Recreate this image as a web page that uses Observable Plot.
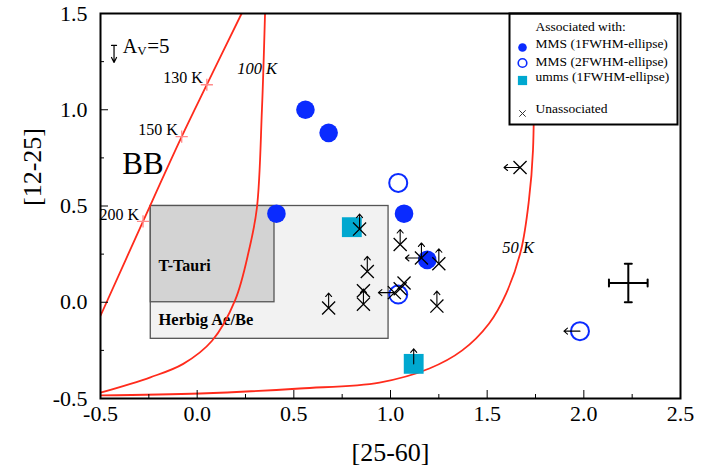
<!DOCTYPE html>
<html><head><meta charset="utf-8">
<script src="https://cdn.jsdelivr.net/npm/d3@7"></script>
<script src="https://cdn.jsdelivr.net/npm/@observablehq/plot@0.6"></script>
<style>
body{margin:0;background:#fff}
#chart svg, #chart svg text { font-family: "Liberation Serif", "Times New Roman", serif !important; }
</style>
</head><body><div id="chart"></div>
<script>
// ---- data ----
const mms1X = [0.56, 0.68, 0.41, 1.07, 1.19];
const mms1Y = [1.00, 0.88, 0.46, 0.46, 0.22];
const mms2X = [1.04, 1.04, 1.98];
const mms2Y = [0.62, 0.04, -0.15];
const mms2UpperX = [false, false, true];
const ummsX = [0.80, 1.12];
const ummsY = [0.39, -0.32];
const ummsLowerY = [false, true];
const unX = [1.67, 1.05, 1.16, 1.25, 1.24, 0.88, 0.84, 0.68, 0.86, 0.86, 1.02, 1.05, 1.07];
const unY = [0.70, 0.30, 0.23, 0.20, -0.02, 0.16, 0.38, -0.03, 0.06, -0.01, 0.05, 0.07, 0.10];
const unLowerY = [false, true, true, true, true, true, true, true, false, true, false, false, false];
const unUpperX = [true, false, true, false, false, false, false, false, false, false, true, false, false];
const bbX = [0.23, 0.05, -0.08, -0.28, -0.5];
const bbY = [1.5, 1.13, 0.86, 0.42, -0.07];
const bbTempLabels = ["130 K", "150 K", "200 K"];
const bbTempX = [0.05, -0.08, -0.28];
const bbTempY = [1.13, 0.86, 0.42];
const k100X = [0.351, 0.335, 0.309, 0.268, 0.196, 0.077, -0.072, -0.242, -0.5];
const k100Y = [1.5, 1.0, 0.49, 0.27, 0.01, -0.20, -0.32, -0.39, -0.47];
const k50X = [1.742, 1.737, 1.716, 1.675, 1.598, 1.510, 1.371, 1.201, 0.943, 0.531, 0.015, -0.5];
const k50Y = [1.5, 0.79, 0.53, 0.27, 0.045, -0.11, -0.25, -0.344, -0.417, -0.448, -0.474, -0.484];
const herbigBox = [-0.24, 0.99, -0.19, 0.5];
const ttauriBox = [-0.24, 0.40, 0.0, 0.5];
const errX = [2.23], errY = [0.10], errDX = [0.1], errDY = [0.1];
const xMajor = [-0.5, 0, 0.5, 1, 1.5, 2, 2.5];
const xMinor = [-0.25, 0.25, 0.75, 1.25, 1.75, 2.25];
const yMajor = [-0.5, 0, 0.5, 1, 1.5];
const yMinor = [-0.25, 0.25, 0.75, 1.25];
const legendLabels = ["Associated with:", "MMS (1FWHM-ellipse)", "MMS (2FWHM-ellipse)", "umms (1FWHM-ellipse)", "Unassociated"];

// ---- build tables ----
const zip = (X, Y) => X.map((x, i) => ({x, y: Y[i]}));
const mms1 = zip(mms1X, mms1Y);
const mms2 = mms2X.map((x, i) => ({x, y: mms2Y[i], ux: mms2UpperX[i]}));
const umms = ummsX.map((x, i) => ({x, y: ummsY[i], ly: ummsLowerY[i]}));
const unas = unX.map((x, i) => ({x, y: unY[i], ly: unLowerY[i], ux: unUpperX[i]}));
const bb = zip(bbX, bbY);
const bbT = bbTempLabels.map((t, i) => ({t, x: bbTempX[i], y: bbTempY[i]}));
const k100 = zip(k100X, k100Y);
const k50 = zip(k50X, k50Y);
const err = errX.map((x, i) => ({x, y: errY[i], dx: errDX[i], dy: errDY[i]}));
const boxes = [
  {x1: herbigBox[0], x2: herbigBox[1], y1: herbigBox[2], y2: herbigBox[3], fill: "#f2f2f2"},
  {x1: ttauriBox[0], x2: ttauriBox[1], y1: ttauriBox[2], y2: ttauriBox[3], fill: "#d3d3d3"}
];
const upLimits = [...unas.filter(d => d.ly), ...umms.filter(d => d.ly)];
const leftLimits = [...unas.filter(d => d.ux), ...mms2.filter(d => d.ux)];

const arrowShape = {draw(ctx, l) {
  ctx.moveTo(0, 0); ctx.lineTo(0, -l);
  ctx.moveTo(-3, -l + 3.5); ctx.lineTo(0, -l); ctx.lineTo(3, -l + 3.5);
}};
const avShape = {draw(ctx, l) {
  ctx.moveTo(-2.5, 0); ctx.lineTo(2.5, 0);
  ctx.moveTo(0, 0); ctx.lineTo(0, -l);
  ctx.moveTo(-2.5, -l + 5); ctx.lineTo(0, -l); ctx.lineTo(2.5, -l + 5);
}};
const capShape = {draw(ctx, l) { ctx.moveTo(0, -l / 2); ctx.lineTo(0, l / 2); }};

const RED = "#ff2b1c", BLUE = "#0a2bff", CYAN = "#00a8d0";
const serif = "Liberation Serif, Times New Roman, serif";
const leg = {frameAnchor: "top-left", dx: 435, textAnchor: "start", lineAnchor: "middle", fontSize: 13.5};

const chart = Plot.plot({
  width: 719, height: 470,
  marginLeft: 100, marginRight: 39, marginTop: 13, marginBottom: 72,
  style: {fontFamily: serif, fontSize: "21px", color: "black", background: "white"},
  x: {domain: [-0.5, 2.5], label: null},
  y: {domain: [-0.5, 1.5], label: null},
  marks: [
    Plot.rect(boxes, {x1: "x1", x2: "x2", y1: "y1", y2: "y2", fill: "fill", stroke: "#555", strokeWidth: 1.3}),
    Plot.text(["T-Tauri"], {x: -0.20, y: 0.19, textAnchor: "start", fontWeight: "bold", fontSize: 16}),
    Plot.text(["Herbig Ae/Be"], {x: -0.20, y: -0.09, textAnchor: "start", fontWeight: "bold", fontSize: 16.5}),
    Plot.line(k100, {x: "x", y: "y", curve: "catmull-rom", stroke: RED, strokeWidth: 1.8, clip: true}),
    Plot.line(k50, {x: "x", y: "y", curve: "catmull-rom", stroke: RED, strokeWidth: 1.8, clip: true}),
    Plot.line(bb, {x: "x", y: "y", curve: "catmull-rom", stroke: RED, strokeWidth: 1.8, clip: true}),
    Plot.dot(bbT, {x: "x", y: "y", symbol: "plus", r: 4, stroke: "#ff8a8a", strokeWidth: 1.3}),
    Plot.text(bbT, {x: "x", y: "y", text: "t", textAnchor: "end", dx: -4, dy: -7, fontSize: 16}),
    Plot.text(["BB"], {x: -0.28, y: 0.72, fontSize: 31}),
    Plot.text(["100 K"], {x: 0.31, y: 1.215, fontSize: 16.5, fontStyle: "italic"}),
    Plot.text(["50 K"], {x: 1.66, y: 0.285, fontSize: 16.5, fontStyle: "italic"}),
    // A_V = 5 extinction arrow
    Plot.vector([0], {x: -0.43, y: 1.334, length: 17, rotate: 180, anchor: "start", shape: avShape, stroke: "black", strokeWidth: 1.2}),
    Plot.text(["A"], {x: -0.385, y: 1.33, textAnchor: "start", fontSize: 20}),
    Plot.text(["V"], {x: -0.385, y: 1.33, dx: 14.5, dy: 5, textAnchor: "start", fontSize: 13}),
    Plot.text(["=5"], {x: -0.385, y: 1.33, dx: 24.5, textAnchor: "start", fontSize: 21}),
    // data points
    Plot.dot(mms1, {x: "x", y: "y", r: 9.3, fill: BLUE}),
    Plot.dot(mms2, {x: "x", y: "y", r: 9, stroke: BLUE, strokeWidth: 2}),
    Plot.dot(umms, {x: "x", y: "y", symbol: "square", r: 11.2, fill: CYAN}),
    Plot.dot(unas, {x: "x", y: "y", symbol: "times", r: 6, stroke: "black", strokeWidth: 1.3}),
    Plot.vector(upLimits, {x: "x", y: "y", length: 15, rotate: 0, anchor: "start", shape: arrowShape, stroke: "black", strokeWidth: 1.1}),
    Plot.vector(leftLimits, {x: "x", y: "y", length: 16, rotate: -90, anchor: "start", shape: arrowShape, stroke: "black", strokeWidth: 1.1}),
    // typical error bar
    Plot.ruleY(err, {y: "y", x1: d => d.x - d.dx, x2: d => d.x + d.dx, strokeWidth: 2}),
    Plot.ruleX(err, {x: "x", y1: d => d.y - d.dy, y2: d => d.y + d.dy, strokeWidth: 2}),
    Plot.vector(err, {x: d => d.x - d.dx, y: "y", length: 7, rotate: 0, anchor: "start", shape: capShape, stroke: "black", strokeWidth: 2}),
    Plot.vector(err, {x: d => d.x + d.dx, y: "y", length: 7, rotate: 0, anchor: "start", shape: capShape, stroke: "black", strokeWidth: 2}),
    Plot.vector(err, {x: "x", y: d => d.y - d.dy, length: 7, rotate: 90, anchor: "start", shape: capShape, stroke: "black", strokeWidth: 2}),
    Plot.vector(err, {x: "x", y: d => d.y + d.dy, length: 7, rotate: 90, anchor: "start", shape: capShape, stroke: "black", strokeWidth: 2}),
    // legend
    Plot.frame({insetLeft: 409, insetRight: 3, insetTop: 0, insetBottom: 274, fill: "white", stroke: "black", strokeWidth: 2}),
    Plot.text([legendLabels[0]], {...leg, dy: 13}),
    Plot.text([legendLabels[1]], {...leg, dy: 30.5}),
    Plot.text([legendLabels[2]], {...leg, dy: 48}),
    Plot.text([legendLabels[3]], {...leg, dy: 63.5}),
    Plot.text([legendLabels[4]], {...leg, dy: 95}),
    Plot.dot([0], {frameAnchor: "top-left", dx: 422, dy: 34, r: 4.3, fill: BLUE}),
    Plot.dot([0], {frameAnchor: "top-left", dx: 422, dy: 49.5, r: 4.3, stroke: BLUE, strokeWidth: 1.6}),
    Plot.dot([0], {frameAnchor: "top-left", dx: 422, dy: 67, symbol: "square", r: 5.2, fill: CYAN}),
    Plot.dot([0], {frameAnchor: "top-left", dx: 422, dy: 100, symbol: "times", r: 3, stroke: "#333", strokeWidth: 1}),
    // axes
    Plot.axisX(xMajor, {anchor: "bottom", tickSize: -8, fill: "none", label: null}),
    Plot.axisX(xMinor, {anchor: "bottom", tickSize: -4, fill: "none", label: null}),
    Plot.axisX(xMajor, {anchor: "bottom", tickSize: 0, tickPadding: 7, tickFormat: d => d.toFixed(1), fontSize: 22, label: null}),
    Plot.axisY(yMajor, {anchor: "left", tickSize: -8, fill: "none", label: null}),
    Plot.axisY(yMinor, {anchor: "left", tickSize: -4, fill: "none", label: null}),
    Plot.axisY(yMajor, {anchor: "left", tickSize: 0, tickPadding: 13, tickFormat: d => d.toFixed(1), fontSize: 22, label: null}),
    Plot.text(["[25-60]"], {frameAnchor: "bottom", dy: 54, lineAnchor: "middle", fontSize: 26}),
    Plot.text(["[12-25]"], {frameAnchor: "left", dx: -68, lineAnchor: "middle", rotate: -90, fontSize: 26}),
    Plot.frame({stroke: "black", strokeWidth: 2})
  ]
});
document.getElementById("chart").appendChild(chart);
</script>
</body></html>
